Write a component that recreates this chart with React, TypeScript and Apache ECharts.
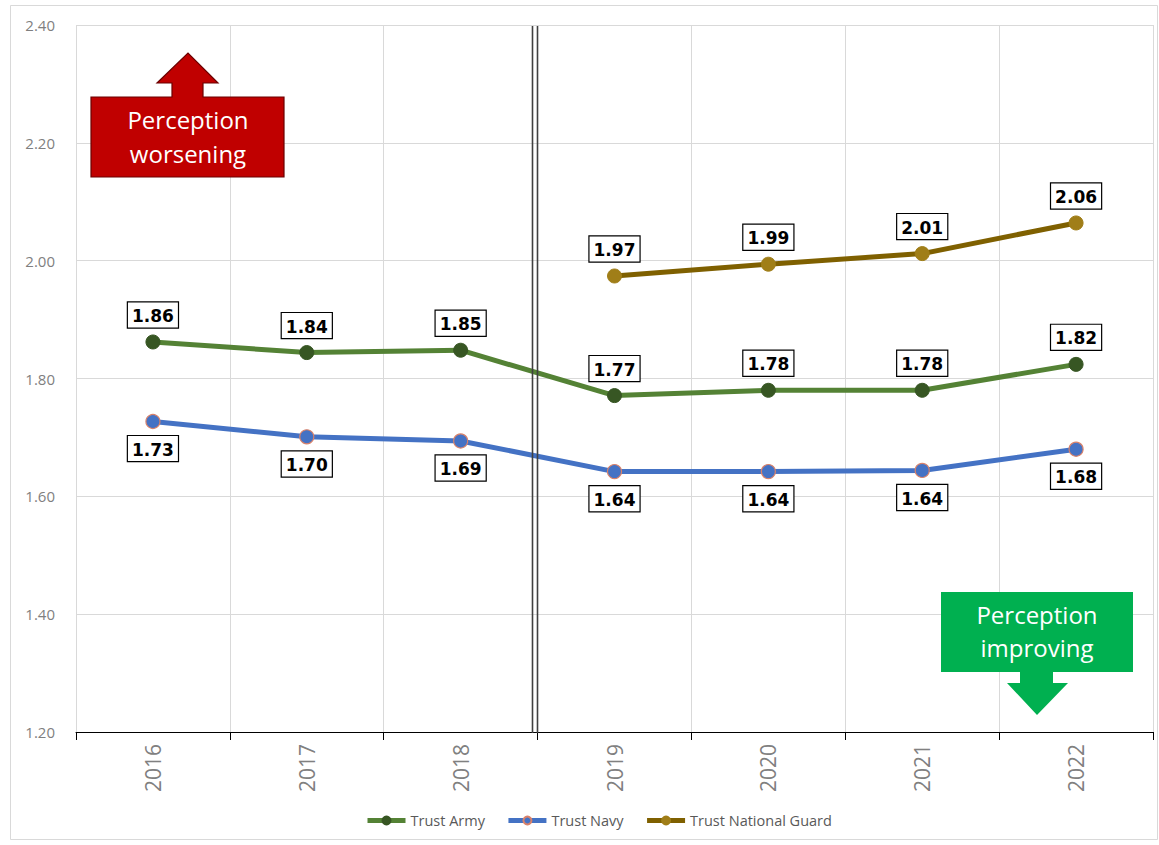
import React, { useEffect, useRef } from "react";
import * as echarts from "echarts";

const years = ["2016", "2017", "2018", "2019", "2020", "2021", "2022"];
const trustArmy = [1.862, 1.844, 1.848, 1.771, 1.78, 1.78, 1.824];
const trustNavy = [1.727, 1.701, 1.694, 1.642, 1.642, 1.644, 1.68];
const trustGuard = [null, null, null, 1.974, 1.994, 2.012, 2.064];
const yMin = 1.2;
const yMax = 2.4;
const yStep = 0.2;

const labelBase = (pos: string) => ({
  show: true,
  position: pos,
  distance: 7,
  formatter: (p: any) => (p.value == null ? "" : Number(p.value).toFixed(2)),
  fontFamily: "'DejaVu Sans', sans-serif",
  fontWeight: "bold",
  fontSize: 17,
  color: "#000",
  backgroundColor: "#fff",
  borderColor: "#000",
  borderWidth: 1.2,
  padding: [5, 4, 3, 4],
});

export default function App() {
  const ref = useRef<HTMLDivElement>(null);
  useEffect(() => {
    if (!ref.current) return;
    const chart = echarts.init(ref.current, undefined, { renderer: "svg" });
    chart.setOption({
      animation: false,
      backgroundColor: "#fff",
      grid: { left: 76, right: 6, top: 25, bottom: 113 },
      xAxis: {
        type: "category",
        data: years,
        boundaryGap: true,
        axisLine: { show: true, lineStyle: { color: "#000", width: 1 } },
        axisTick: { show: true, length: 8, lineStyle: { color: "#000" } },
        axisLabel: {
          rotate: 90,
          margin: 12,
          color: "#808080",
          fontSize: 21,
          fontFamily: "'Open Sans', sans-serif",
        },
        splitLine: { show: true, lineStyle: { color: "#d9d9d9", width: 1 } },
      },
      yAxis: {
        type: "value",
        min: yMin,
        max: yMax,
        interval: yStep,
        axisLine: { show: false },
        axisTick: { show: false },
        axisLabel: {
          formatter: (v: number) => v.toFixed(2),
          color: "#7f7f7f",
          fontSize: 15,
          margin: 21,
          fontFamily: "'Open Sans', sans-serif",
        },
        splitLine: { show: true, lineStyle: { color: "#d9d9d9", width: 1 } },
      },
      legend: {
        bottom: 12,
        left: 360,
        itemWidth: 38,
        itemHeight: 10,
        itemGap: 21,
        lineStyle: { width: 5 },
        textStyle: {
          color: "#595959",
          fontSize: 14.5,
          fontFamily: "'Open Sans', sans-serif",
        },
        data: ["Trust Army", "Trust Navy", "Trust National Guard"],
      },
      series: [
        {
          name: "Trust Army",
          type: "line",
          data: trustArmy,
          symbol: "circle",
          symbolSize: 14,
          lineStyle: { color: "#548235", width: 5 },
          itemStyle: { color: "#375623", borderColor: "#375623", borderWidth: 1 },
          label: labelBase("top"),
          z: 3,
        },
        {
          name: "Trust Navy",
          type: "line",
          data: trustNavy,
          symbol: "circle",
          symbolSize: 14,
          lineStyle: { color: "#4472C4", width: 5 },
          itemStyle: { color: "#4472C4", borderColor: "#D9826A", borderWidth: 1.2 },
          label: labelBase("bottom"),
          z: 3,
        },
        {
          name: "Trust National Guard",
          type: "line",
          data: trustGuard,
          symbol: "circle",
          symbolSize: 14,
          lineStyle: { color: "#7F6000", width: 5 },
          itemStyle: { color: "#A07E18", borderColor: "#A07E18", borderWidth: 1 },
          label: labelBase("top"),
          z: 3,
        },
      ],
      graphic: [
        {
          type: "rect",
          silent: true,
          shape: { x: 10.5, y: 5.5, width: 1147, height: 834 },
          style: { fill: "none", stroke: "#d9d9d9", lineWidth: 1 },
        },
        {
          type: "line",
          silent: true,
          z: 10,
          shape: { x1: 532.5, y1: 26, x2: 532.5, y2: 733 },
          style: { stroke: "#404040", lineWidth: 1.6 },
        },
        {
          type: "line",
          silent: true,
          z: 10,
          shape: { x1: 537.5, y1: 26, x2: 537.5, y2: 733 },
          style: { stroke: "#404040", lineWidth: 1.6 },
        },
        {
          type: "polygon",
          silent: true,
          z: 20,
          shape: {
            points: [
              [91, 97], [172, 97], [172, 83], [157, 83], [188, 53], [218, 83],
              [203, 83], [203, 97], [284, 97], [284, 177], [91, 177],
            ],
          },
          style: { fill: "#C00000", stroke: "#6b0000", lineWidth: 1.2 },
        },
        {
          type: "text",
          silent: true,
          z: 21,
          style: {
            text: "Perception\nworsening",
            x: 188,
            y: 136,
            align: "center",
            verticalAlign: "middle",
            fill: "#fff",
            fontSize: 24,
            fontFamily: "'Open Sans', sans-serif",
            lineHeight: 34,
          },
        },
        {
          type: "polygon",
          silent: true,
          z: 20,
          shape: {
            points: [
              [941, 592], [1133, 592], [1133, 672], [1053, 672], [1053, 683],
              [1068, 683], [1037, 715], [1007, 683], [1020, 683], [1020, 672], [941, 672],
            ],
          },
          style: { fill: "#00B050" },
        },
        {
          type: "text",
          silent: true,
          z: 21,
          style: {
            text: "Perception\nimproving",
            x: 1037,
            y: 631,
            align: "center",
            verticalAlign: "middle",
            fill: "#fff",
            fontSize: 24,
            fontFamily: "'Open Sans', sans-serif",
            lineHeight: 33,
          },
        },
      ],
    });
    return () => chart.dispose();
  }, []);
  return (
    <div
      ref={ref}
      style={{ position: "fixed", left: 0, top: 0, width: 1159, height: 845, background: "#fff" }}
    />
  );
}
